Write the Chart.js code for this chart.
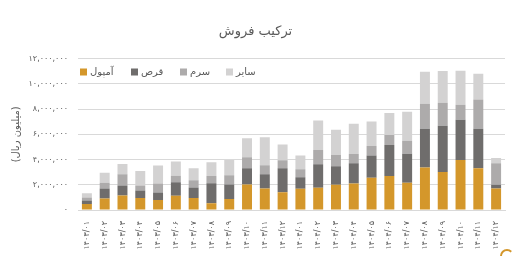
<!DOCTYPE html>
<html><head><meta charset="utf-8">
<script src="https://cdn.jsdelivr.net/npm/chart.js@4"></script>
<style>html,body{margin:0;padding:0;background:#fff;}#wrap{width:512px;height:258px;}</style>
</head><body><div id="wrap"><canvas id="c" width="512" height="258"></canvas></div>
<script>
const categories = ["۱۴۰۳/۰۱","۱۴۰۳/۰۲","۱۴۰۳/۰۳","۱۴۰۳/۰۴","۱۴۰۳/۰۵","۱۴۰۳/۰۶","۱۴۰۳/۰۷","۱۴۰۳/۰۸","۱۴۰۳/۰۹","۱۴۰۳/۱۰","۱۴۰۳/۱۱","۱۴۰۳/۱۲",
"۱۴۰۴/۰۱","۱۴۰۴/۰۲","۱۴۰۴/۰۳","۱۴۰۴/۰۴","۱۴۰۴/۰۵","۱۴۰۴/۰۶","۱۴۰۴/۰۷","۱۴۰۴/۰۸","۱۴۰۴/۰۹","۱۴۰۴/۱۰","۱۴۰۴/۱۱","۱۴۰۴/۱۲"];
const seriesNames = ["آمپول","قرص","سرم","سایر"];
const ampoule = [480000,910000,1150000,960000,800000,1120000,960000,530000,880000,2030000,1710000,1410000,1680000,1760000,2000000,2110000,2560000,2690000,2160000,3360000,3010000,3970000,3310000,1710000];
const tablet  = [270000,800000,800000,590000,590000,1070000,830000,1600000,1150000,1280000,1120000,1900000,910000,1870000,1470000,1600000,1760000,2460000,2290000,3070000,3660000,3180000,3120000,290000];
const serum   = [240000,450000,880000,400000,720000,530000,560000,560000,720000,880000,720000,640000,640000,1120000,880000,720000,750000,800000,1040000,2000000,1840000,1200000,2320000,1710000];
const other   = [340000,800000,820000,1140000,1410000,1120000,960000,1100000,1220000,1490000,2210000,1250000,1090000,2340000,2020000,2400000,1940000,1730000,2300000,2530000,2500000,2690000,2050000,420000];
const yTickMax = 12000000, yTickStep = 2000000;
const chartTitle = "ترکیب فروش";
const yAxisTitle = "(میلیون ریال)";

const colors = ["#D4972B","#6F6D6C","#ADABAB","#D3D2D2"];
const FONT = "'DejaVu Sans', sans-serif";
const faDigits = "۰۱۲۳۴۵۶۷۸۹";
function toFa(n){ return String(n).replace(/\B(?=(\d{3})+(?!\d))/g, ",").replace(/\d/g, d => faDigits[d]); }

const legendPlugin = {
  id: 'insideLegend',
  afterDatasetsDraw(chart){
    const ctx = chart.ctx;
    const y = 72;
    const xs = [80, 131, 180, 226];
    ctx.save();
    ctx.font = "10px " + FONT;
    ctx.textBaseline = "middle";
    ctx.textAlign = "left";
    chart.data.datasets.forEach((ds, i) => {
      ctx.fillStyle = ds.backgroundColor;
      ctx.fillRect(xs[i], y - 3.5, 7, 7);
      ctx.fillStyle = "#595959";
      ctx.fillText(ds.label, xs[i] + 10, y);
    });
    ctx.restore();
  },
  afterDraw(chart){
    const ctx = chart.ctx;
    ctx.save();
    ctx.strokeStyle = "#D4972B";
    ctx.lineWidth = 2;
    ctx.beginPath();
    ctx.arc(507, 256, 6, Math.PI*1.0, Math.PI*1.75);
    ctx.stroke();
    ctx.restore();
  }
};

const datasets = [ampoule, tablet, serum, other].map((d, i) => ({
  label: seriesNames[i], data: d, backgroundColor: colors[i],
  categoryPercentage: 1, barPercentage: 0.56, borderWidth: 0
}));

new Chart(document.getElementById('c'), {
  type: 'bar',
  data: { labels: categories, datasets },
  plugins: [legendPlugin],
  options: {
    responsive: false, animation: false, devicePixelRatio: 1,
    layout: { padding: { left: 6, right: 7, top: 0, bottom: 4 } },
    plugins: {
      legend: { display: false },
      tooltip: { enabled: false },
      title: { display: true, text: chartTitle, color: "#595959",
        font: { family: FONT, size: 13, weight: 'normal' }, padding: { top: 24, bottom: 19 } }
    },
    scales: {
      x: { stacked: true,
        grid: { display: false },
        border: { display: true, color: "#D9D9D9" },
        ticks: { color: "#595959", font: { family: FONT, size: 8 }, minRotation: 90, maxRotation: 90, autoSkip: false, padding: 3 },
        afterFit(s){ s.height = 44; }
      },
      y: { stacked: true, min: 0, max: yTickMax,
        grid: { color: "#D9D9D9", drawTicks: false },
        border: { display: false },
        ticks: { stepSize: yTickStep, color: "#595959", font: { family: FONT, size: 8 }, padding: 10,
          callback: v => toFa(v) },
        title: { display: true, text: yAxisTitle, color: "#595959", font: { family: FONT, size: 10 }, padding: { top: 4, bottom: 0 } },
        afterFit(s){ s.width = 72; }
      }
    }
  }
});
</script></body></html>
